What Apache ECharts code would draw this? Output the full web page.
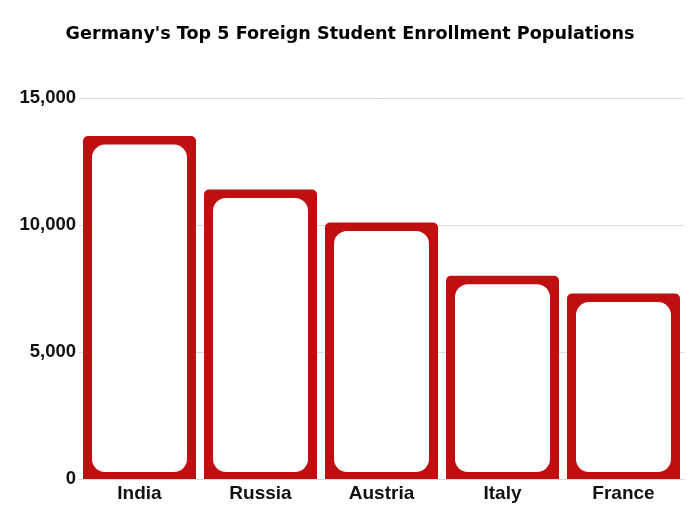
<!DOCTYPE html>
<html>
<head>
<meta charset="utf-8">
<script src="https://cdn.jsdelivr.net/npm/echarts@6/dist/echarts.min.js"></script>
<style>
  html, body { margin: 0; padding: 0; background: #fff; }
  #chart { width: 700px; height: 525px; }
</style>
</head>
<body>
<div id="chart"></div>
<script>
// data
var countries = ['India', 'Russia', 'Austria', 'Italy', 'France'];
var students = [13500, 11400, 10100, 8000, 7300];
var yTicks = [0, 5000, 10000, 15000];

var RED = '#BF0F10';

// red block with a white rounded window inside
function renderBar(params, api) {
  var top = api.coord([api.value(0), api.value(1)]);
  var base = api.coord([api.value(0), 0]);
  var w = api.size([1, 0])[0] * 0.934;
  var x = top[0] - w / 2;
  var h = base[1] - top[1];
  return {
    type: 'group',
    children: [
      {
        type: 'rect',
        shape: { x: x, y: top[1], width: w, height: h, r: [5, 5, 0, 0] },
        style: { fill: RED }
      },
      {
        type: 'rect',
        shape: { x: x + 9, y: top[1] + 8.5, width: w - 18, height: h - 15.5, r: 13 },
        style: { fill: '#fff' }
      }
    ]
  };
}

const chart = echarts.init(document.getElementById('chart'));
chart.setOption({
  animation: false,
  title: {
    text: "Germany's Top 5 Foreign Student Enrollment Populations",
    left: 'center',
    top: 20,
    textStyle: {
      fontFamily: 'DejaVu Sans',
      fontWeight: 'bold',
      fontSize: 17.6,
      color: '#000'
    }
  },
  grid: { left: 79, right: 16, top: 98, bottom: 46 },
  xAxis: {
    type: 'category',
    data: countries,
    axisTick: { show: false },
    axisLine: { lineStyle: { color: '#dddddd' } },
    axisLabel: {
      margin: 5,
      fontFamily: 'Liberation Sans',
      fontWeight: 'bold',
      fontSize: 19,
      color: '#111'
    }
  },
  yAxis: {
    type: 'value',
    min: yTicks[0],
    max: yTicks[yTicks.length - 1],
    interval: 5000,
    splitLine: { lineStyle: { color: '#dddddd' } },
    axisLabel: {
      margin: 3,
      fontFamily: 'Liberation Sans',
      fontWeight: 'bold',
      fontSize: 18.5,
      color: '#111',
      formatter: function (v) { return v.toLocaleString('en-US'); }
    }
  },
  series: [
    {
      type: 'custom',
      renderItem: renderBar,
      encode: { x: 0, y: 1 },
      data: students.map(function (v, i) { return [i, v]; })
    }
  ]
});
</script>
</body>
</html>
